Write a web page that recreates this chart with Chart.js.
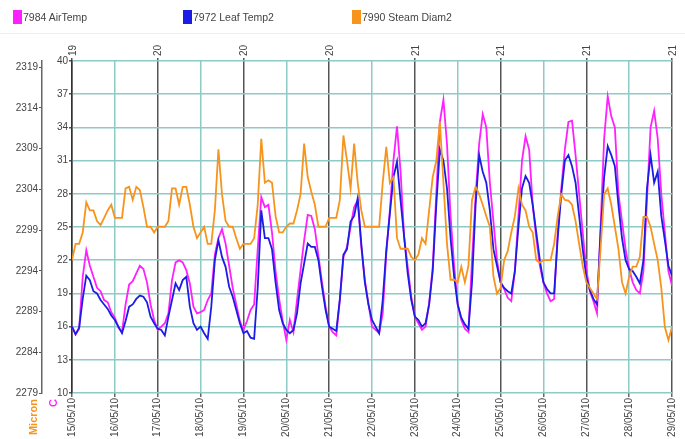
<!DOCTYPE html>
<html>
<head>
<meta charset="utf-8">
<script src="https://cdn.jsdelivr.net/npm/chart.js@4.4.1/dist/chart.umd.min.js"></script>
<style>
body { margin: 0; background: #fff; font-family: "Liberation Sans", Arial, sans-serif; }
#wrap { position: relative; width: 685px; height: 439px; }
#chart { position: absolute; left: 0; top: 0; }
#legend { position: absolute; left: 0; top: 0; width: 685px; height: 33px; border-bottom: 1px solid #eee; }
.item { position: absolute; top: 10px; font-size: 10.5px; color: #444; line-height: 14px; white-space: nowrap; }
.box { display: inline-block; width: 9px; height: 14px; vertical-align: top; margin-right: 1px; }
</style>
</head>
<body>
<div id="wrap">
  <canvas id="chart" width="685" height="439"></canvas>
  <div id="legend"></div>
</div>
<script>
const ctx = document.getElementById('chart').getContext('2d');

// x axis: one label per day, week numbers every second day on top
const dayLabels = ['15/05/10', '16/05/10', '17/05/10', '18/05/10', '19/05/10', '20/05/10', '21/05/10', '22/05/10',
    '23/05/10', '24/05/10', '25/05/10', '26/05/10', '27/05/10', '28/05/10', '29/05/10'];
const weekLabels = ['19', '20', '20', '20', '21', '21', '21', '21'];
const stepHours = 2; // one reading every 2 hours from 15/05 00:00

const seriesNames = ['7984 AirTemp', '7972 Leaf Temp2', '7990 Steam Diam2'];
const seriesColors = ['#ff20ff', '#1c1ce6', '#f7941d'];

// C
const airTemp = [
    16.0, 15.3, 15.8, 20.5, 22.9, 21.5, 20.5, 19.5, 19.2, 18.4, 18.2, 17.3,
    16.8, 15.9, 15.5, 18.0, 19.8, 20.1, 20.8, 21.5, 21.2, 20.0, 18.0, 16.6,
    15.7, 16.0, 16.3, 17.2, 20.2, 21.8, 22.0, 21.8, 21.1, 19.9, 17.8, 17.2,
    17.3, 17.5, 18.4, 19.0, 22.5, 24.0, 24.8, 23.5, 21.5, 19.5, 18.0, 16.5,
    15.7, 16.5, 17.5, 18.0, 23.0, 27.7, 26.8, 27.0, 24.5, 21.0, 18.5, 16.5,
    14.8, 16.6, 15.5, 18.4, 21.1, 23.8, 26.1, 26.0, 24.8, 22.4, 20.0, 17.8,
    16.0, 15.5, 15.2, 18.4, 22.3, 23.2, 25.0, 26.8, 27.4, 23.2, 20.2, 18.1,
    16.0, 15.7, 15.4, 17.2, 22.6, 26.5, 31.0, 34.1, 30.0, 24.1, 21.4, 18.7,
    16.9, 16.3, 15.7, 16.0, 18.1, 21.4, 28.0, 34.5, 36.5, 32.5, 26.0, 21.5,
    18.0, 16.6, 15.8, 15.5, 22.0, 27.7, 32.5, 35.2, 34.0, 29.0, 25.5, 22.0,
    20.0, 19.4, 18.6, 18.3, 21.0, 26.0, 31.0, 33.2, 32.0, 27.0, 24.0, 21.5,
    20.0, 19.0, 18.3, 18.5, 24.5, 28.5, 32.0, 34.5, 34.6, 31.5, 28.0, 24.5,
    21.2, 19.2, 18.3, 17.2, 25.0, 33.0, 36.8, 35.0, 34.0, 28.0, 25.5, 23.0,
    21.2, 20.0, 19.3, 19.0, 21.0, 27.5, 34.0, 35.5, 33.0, 28.0, 24.5, 21.0,
    19.7
];

// C
const leafTemp = [
    16.0, 15.3, 15.9, 18.5, 20.6, 20.2, 19.2, 19.0, 18.4, 18.0, 17.6, 17.0,
    16.6, 16.0, 15.4, 16.5, 17.8, 18.0, 18.5, 18.8, 18.7, 18.2, 16.9, 16.3,
    15.8, 15.7, 15.2, 16.9, 18.4, 19.9, 19.3, 20.2, 20.5, 17.8, 16.3, 15.7,
    16.0, 15.4, 14.9, 17.8, 22.0, 23.8, 22.3, 21.4, 19.6, 18.7, 17.5, 16.3,
    15.4, 15.6, 15.0, 14.9, 19.5, 26.5, 24.0, 24.0, 23.0, 20.0, 17.5, 16.3,
    15.7, 15.4, 15.7, 17.2, 19.9, 21.7, 23.5, 23.2, 23.2, 22.0, 19.6, 17.5,
    16.0, 15.8, 15.6, 18.5, 22.5, 23.0, 25.5, 26.0, 27.6, 23.5, 20.0, 18.0,
    16.6, 16.0, 15.4, 18.4, 22.9, 26.2, 29.5, 30.9, 27.4, 24.1, 20.8, 18.4,
    16.9, 16.6, 16.0, 16.3, 18.0, 21.0, 27.0, 32.0, 31.0, 28.5, 24.0, 20.5,
    18.0, 16.8, 16.2, 15.8, 20.0, 27.0, 31.5, 30.0, 29.0, 26.5, 23.0, 21.5,
    20.0, 19.5, 19.2, 19.0, 21.0, 25.0, 28.5, 29.6, 29.0, 27.0, 24.5, 22.0,
    20.0, 19.4, 19.0, 19.0, 24.0, 28.0, 31.0, 31.5, 30.5, 29.0, 26.0, 23.0,
    20.5, 19.3, 18.5, 18.0, 24.5, 29.5, 32.3, 31.5, 30.5, 27.0, 24.0, 22.0,
    21.2, 21.0, 20.5, 19.9, 22.0, 28.5, 31.5, 29.0, 30.0, 26.0, 23.8, 21.5,
    20.6
];

// Micron
const stemDiam = [
    2295.3, 2297.3, 2297.3, 2298.7, 2302.4, 2301.4, 2301.4, 2300.1, 2299.6, 2300.5, 2301.4, 2302.1,
    2300.5, 2300.5, 2300.5, 2304.1, 2304.3, 2302.7, 2304.3, 2303.9, 2301.8, 2299.4, 2299.4, 2298.7,
    2299.4, 2299.4, 2299.4, 2300.1, 2304.1, 2304.1, 2302.1, 2304.3, 2304.3, 2302.1, 2299.4, 2298.0,
    2298.7, 2299.4, 2297.3, 2297.3, 2301.4, 2308.9, 2303.4, 2300.1, 2299.4, 2299.4, 2298.0, 2296.7,
    2297.3, 2297.3, 2297.3, 2298.0, 2302.1, 2310.2, 2304.8, 2305.1, 2304.8, 2300.7, 2298.7, 2298.7,
    2299.4, 2299.8, 2299.8, 2301.4, 2303.4, 2309.6, 2305.5, 2303.7, 2302.1, 2299.4, 2299.4, 2299.4,
    2300.5, 2300.5, 2300.5, 2302.7, 2310.6, 2307.5, 2304.1, 2309.6, 2304.8, 2301.4, 2299.4, 2299.4,
    2299.4, 2299.4, 2299.4, 2304.8, 2309.2, 2304.8, 2305.5, 2298.0, 2296.7, 2296.7, 2296.7, 2295.7,
    2295.3, 2296.0, 2298.0, 2297.3, 2301.4, 2305.5, 2307.5, 2312.3, 2304.8, 2297.3, 2292.9, 2292.9,
    2292.6, 2294.5, 2292.6, 2294.6, 2302.7, 2304.3, 2303.4, 2302.1, 2300.7, 2299.4, 2293.3, 2291.2,
    2291.9, 2295.3, 2296.4, 2298.7, 2300.7, 2304.1, 2302.1, 2301.4, 2299.4, 2298.7, 2295.3, 2295.0,
    2295.3, 2295.3, 2295.3, 2297.3, 2300.7, 2303.4, 2302.7, 2302.6, 2302.1, 2300.1, 2297.3, 2294.6,
    2292.6, 2291.9, 2291.2, 2290.5, 2296.7, 2303.4, 2304.1, 2302.1, 2299.4, 2296.7, 2292.6, 2291.2,
    2293.3, 2294.5, 2294.5, 2295.7, 2300.6, 2300.6, 2299.4, 2297.3, 2295.3, 2291.9, 2287.1, 2285.5,
    2287.1
];

const micronTicks = [2279, 2284, 2289, 2294, 2299, 2304, 2309, 2314, 2319];

const teal = '#8ecbc6';
const tickFont = { family: '"Liberation Sans", Arial, sans-serif', size: 10 };

function toPoints(values) {
    return values.map((v, i) => ({ x: i * stepHours, y: v }));
}

// legend as plain html
const legend = document.getElementById('legend');
const legendLeft = [13, 183, 352];
seriesNames.forEach((name, i) => {
    const el = document.createElement('div');
    el.className = 'item';
    el.style.left = legendLeft[i] + 'px';
    el.innerHTML = '<span class="box" style="background:' + seriesColors[i] + '"></span>' + name;
    legend.appendChild(el);
});

// "Micron" and "C" written under the left axes
const axisTitles = {
    id: 'axisTitles',
    afterDraw(chart) {
        const c = chart.ctx;
        c.save();
        c.textAlign = 'right';
        c.textBaseline = 'middle';
        c.font = 'bold 11px "Liberation Sans", Arial, sans-serif';
        c.fillStyle = seriesColors[2];
        c.translate(34, 399);
        c.rotate(-Math.PI / 2);
        c.fillText('Micron', 0, 0);
        c.restore();
        c.save();
        c.textAlign = 'right';
        c.textBaseline = 'middle';
        c.font = 'bold 11px "Liberation Sans", Arial, sans-serif';
        c.fillStyle = seriesColors[0];
        c.translate(54, 399);
        c.rotate(-Math.PI / 2);
        c.fillText('C', 0, 0);
        c.restore();
    }
};

new Chart(ctx, {
    type: 'line',
    data: {
        datasets: [
            { label: seriesNames[0], data: toPoints(airTemp), borderColor: seriesColors[0], yAxisID: 'y', order: 2 },
            { label: seriesNames[1], data: toPoints(leafTemp), borderColor: seriesColors[1], yAxisID: 'y', order: 1 },
            { label: seriesNames[2], data: toPoints(stemDiam), borderColor: seriesColors[2], yAxisID: 'yMic', order: 0 }
        ]
    },
    options: {
        responsive: false,
        animation: false,
        layout: { padding: { left: 0, right: 12, top: 0, bottom: 0 } },
        elements: {
            line: { borderWidth: 1.8, tension: 0, fill: false },
            point: { radius: 0 }
        },
        plugins: { legend: { display: false }, tooltip: { enabled: false } },
        scales: {
            x: {
                type: 'linear', position: 'bottom', min: 0, max: 336,
                afterBuildTicks: s => { s.ticks = dayLabels.map((d, i) => ({ value: i * 24 })); },
                ticks: { callback: (v, i) => dayLabels[i], minRotation: 90, maxRotation: 90, font: tickFont, color: '#444', padding: 1, autoSkip: false },
                grid: { color: c => (c.index % 2 ? teal : 'rgba(0,0,0,0)'), tickColor: '#666', lineWidth: 1.5, tickLength: 4 },
                border: { display: false },
                afterFit: s => { s.height = 46; }
            },
            xTop: {
                type: 'linear', position: 'top', min: 0, max: 336,
                afterBuildTicks: s => { s.ticks = weekLabels.map((w, i) => ({ value: i * 48 })); },
                ticks: { callback: (v, i) => weekLabels[i], minRotation: 90, maxRotation: 90, font: tickFont, color: '#444', padding: 2, labelOffset: 13, autoSkip: false },
                grid: { color: '#555', lineWidth: 1.5, tickLength: 3 },
                border: { display: false },
                afterFit: s => { s.height = 61; }
            },
            y: {
                position: 'left', min: 10, max: 40, weight: 0,
                ticks: { stepSize: 3, font: tickFont, color: '#444', padding: 1 },
                grid: { color: teal, lineWidth: 1.5, tickColor: '#555', tickLength: 3 },
                border: { color: '#333', width: 1.5 },
                afterFit: s => { s.width = 30; }
            },
            yMic: {
                position: 'left', min: 2279, max: 2319.74, weight: 1,
                afterBuildTicks: s => { s.ticks = micronTicks.map(v => ({ value: v })); },
                ticks: { callback: v => String(v), font: tickFont, color: '#444', padding: 1 },
                grid: { drawOnChartArea: false, color: '#555', tickLength: 3 },
                border: { color: '#666', width: 1.5 },
                afterFit: s => { s.width = 42; }
            }
        }
    },
    plugins: [axisTitles]
});
</script>
</body>
</html>
